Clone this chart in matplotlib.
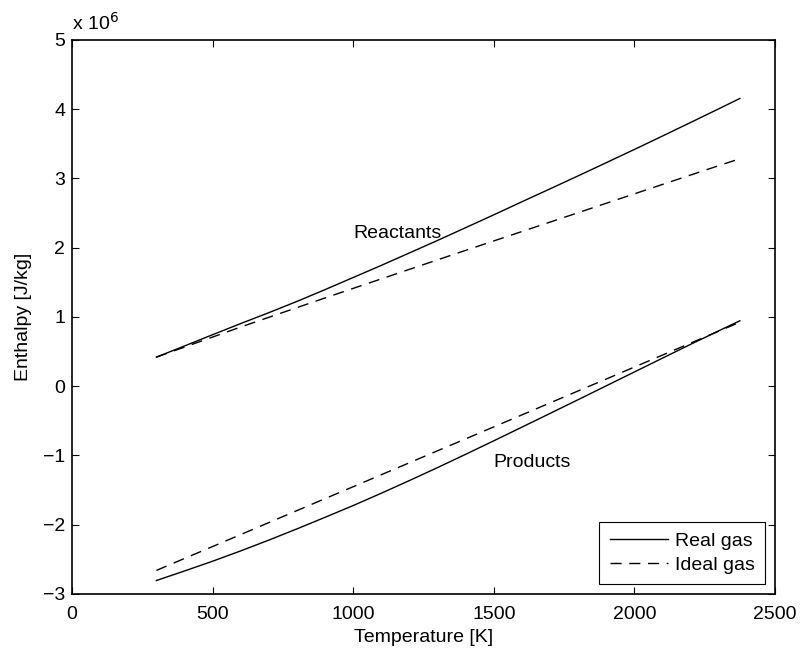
import matplotlib
matplotlib.use("Agg")
import matplotlib.pyplot as plt

plt.rcParams['font.family'] = ['Liberation Sans', 'DejaVu Sans']

# Temperature [K]
T = [300, 400, 500, 600, 700, 800, 900, 1000, 1100, 1200, 1300, 1400, 1500,
     1600, 1700, 1800, 1900, 2000, 2100, 2200, 2300, 2375]

# Enthalpy [x 10^6 J/kg]
react_real = [0.420, 0.581, 0.744, 0.905, 1.062, 1.225, 1.395, 1.570, 1.745, 1.925,
              2.105, 2.290, 2.475, 2.664, 2.850, 3.038, 3.228, 3.419, 3.613, 3.809,
              4.006, 4.155]
react_ideal = [0.420, 0.565, 0.710, 0.855, 0.995, 1.135, 1.275, 1.413, 1.550, 1.688,
               1.825, 1.962, 2.098, 2.234, 2.370, 2.506, 2.642, 2.778, 2.914, 3.050,
               3.185, 3.285]
prod_real = [-2.806, -2.668, -2.527, -2.378, -2.222, -2.060, -1.893, -1.723, -1.545,
             -1.362, -1.175, -0.983, -0.788, -0.591, -0.393, -0.194, 0.006, 0.206,
             0.406, 0.605, 0.800, 0.945]
prod_ideal = [-2.660, -2.487, -2.315, -2.142, -1.969, -1.796, -1.623, -1.451, -1.278,
              -1.105, -0.932, -0.760, -0.587, -0.414, -0.241, -0.068, 0.104, 0.277,
              0.450, 0.623, 0.795, 0.925]

xticks = [0, 500, 1000, 1500, 2000, 2500]
yticks = [-3, -2, -1, 0, 1, 2, 3, 4, 5]

FS = 14

fig = plt.figure(figsize=(8.0, 6.51), dpi=100)
ax = fig.add_axes([0.09, 0.0876, 0.87875, 0.851])

lw = 1.0
dash = (8, 5.5)
ax.plot(T, react_real, color='black', lw=lw, label='Real gas')
ax.plot(T, react_ideal, color='black', lw=lw, dashes=dash, label='Ideal gas')
ax.plot(T, prod_real, color='black', lw=lw)
ax.plot(T, prod_ideal, color='black', lw=lw, dashes=dash)

ax.text(1000, 2.2, 'Reactants', fontsize=FS, ha='left', va='center')
ax.text(1500, -1.1, 'Products', fontsize=FS, ha='left', va='center')

ax.set_xlim(0, 2500)
ax.set_ylim(-3, 5)
ax.set_xticks(xticks)
ax.set_yticks(yticks)
ax.set_xticklabels([str(v) for v in xticks])
ax.set_yticklabels([str(v).replace('-', '\u2212') for v in yticks])
ax.tick_params(direction='in', length=5, width=0.8, labelsize=FS,
               top=True, right=True)
ax.tick_params(axis='y', pad=5)
ax.tick_params(axis='x', pad=9)
for s in ax.spines.values():
    s.set_linewidth(1.2)

ax.set_xlabel('Temperature [K]', fontsize=FS, labelpad=4)
ax.set_ylabel('Enthalpy [J/kg]', fontsize=FS, labelpad=8)

ax.text(0.0, 1.012, r'x 10$^{6}$', transform=ax.transAxes, fontsize=FS,
        ha='left', va='bottom')

leg = ax.legend(loc='lower right', fontsize=FS, fancybox=False, framealpha=1,
                edgecolor='black', handlelength=3.0, handletextpad=0.35,
                borderaxespad=0.5, labelspacing=0.3, borderpad=0.55)
leg.get_frame().set_linewidth(0.8)

fig.savefig('out.png', dpi=100)
